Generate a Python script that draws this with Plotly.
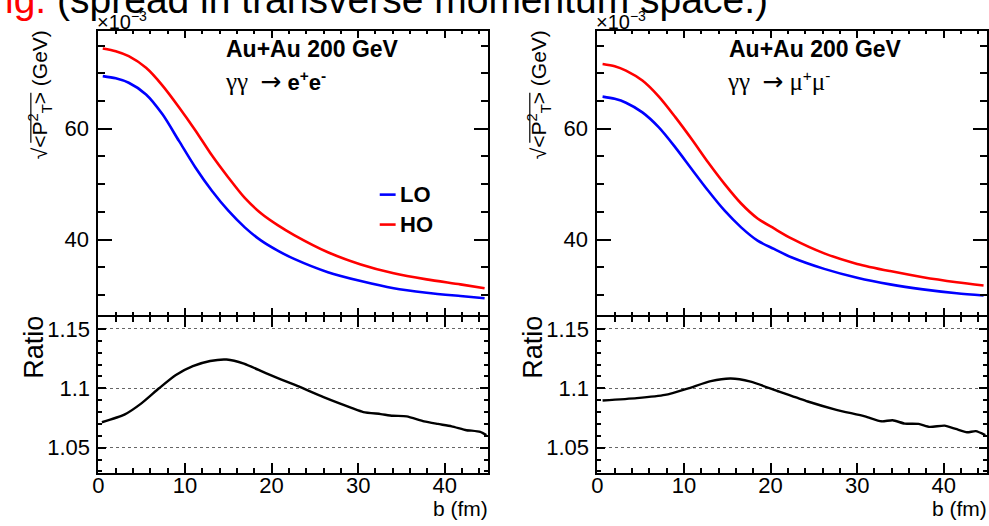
import plotly.graph_objects as go

W, H = 989, 526

# ---- data -----------------------------------------------------------------
# impact parameter b (fm) and sqrt(<pT^2>) (x10^-3 GeV), e+e- channel
b_ee = [0.5, 2.0, 3.5, 5.5, 7.4, 9.3, 11.2, 13.1, 15.0, 16.9, 18.8, 20.7,
        22.6, 26.5, 30.3, 34.1, 37.9, 41.8, 44.6]
lo_ee = [69.5, 69.1, 68.3, 66.2, 62.6, 57.8, 53.0, 48.8, 45.2, 42.2, 39.8,
         38.0, 36.5, 34.1, 32.5, 31.2, 30.4, 29.8, 29.4]
ho_ee = [74.5, 74.0, 73.1, 71.0, 67.8, 63.9, 59.7, 55.2, 51.2, 47.5, 44.7,
         42.6, 40.8, 37.7, 35.5, 33.9, 32.8, 31.9, 31.2]

# mu+mu- channel
b_mm = [0.6, 2.0, 3.3, 5.2, 7.1, 9.0, 10.9, 12.8, 14.7, 16.6, 18.5, 20.4,
        22.4, 26.2, 30.0, 33.8, 37.6, 41.5, 44.6]
lo_mm = [65.8, 65.4, 64.7, 62.95, 60.24, 56.64, 52.7, 48.8, 45.2, 42.2, 39.8,
         38.3, 36.8, 34.7, 33.1, 31.9, 31.0, 30.3, 29.9]
ho_mm = [71.7, 71.3, 70.5, 68.7, 65.8, 62.1, 58.1, 53.9, 50.0, 46.5, 43.8,
         42.0, 40.2, 37.5, 35.6, 34.3, 33.2, 32.3, 31.7]

# HO / LO ratios
b_ratio_ee = [0.4, 3.0, 5.0, 7.0, 8.9, 10.9, 12.9, 14.8, 16.8, 19.4, 22.7,
              26.0, 29.3, 30.6, 32.6, 34.0, 35.6, 37.6, 39.2, 40.8, 42.5,
              43.1, 44.1, 44.8]
ratio_ee = [1.0714, 1.0778, 1.0875, 1.1000, 1.1110, 1.1186, 1.1230, 1.1242,
            1.1208, 1.1125, 1.1028, 1.0925, 1.0833, 1.0800, 1.0783, 1.0769,
            1.0764, 1.0722, 1.0700, 1.0680, 1.0647, 1.0644, 1.0633, 1.0606]

b_ratio_mm = [0.6, 4.55, 7.8, 10.5, 13.1, 15.4, 17.7, 21.0, 24.3, 27.6, 30.9,
              32.8, 34.1, 35.5, 37.1, 38.4, 40.1, 41.4, 42.7, 43.7, 44.8]
ratio_mm = [1.0897, 1.0917, 1.0944, 1.1000, 1.1061, 1.1083, 1.1056, 1.0972,
            1.0889, 1.0819, 1.0764, 1.0722, 1.0731, 1.0703, 1.0700, 1.0675,
            1.0686, 1.0658, 1.0630, 1.0639, 1.0606]

# tick labels
top_y_ticks = [40, 60]
ratio_ticks = [1.05, 1.1, 1.15]
ratio_tick_text = ["1.05", "1.1", "1.15"]
b_ticks = [0, 10, 20, 30, 40]

FONT = "Liberation Sans, Arial, Helvetica, sans-serif"
BLUE = "#0000ff"
RED = "#ff0000"


def px(x):
    return x / W


def py(y):
    return 1 - y / H


# panel geometry (pixels)
LEFT = (93, 485)
RIGHT = (595, 987)
TOP = (30, 315)
BOT = (317, 473)

fig = go.Figure()

panels = [
    # (xaxis top, yaxis top, xaxis bottom, yaxis bottom, b, lo, ho, b_ratio, ratio)
    ("x", "y", "x2", "y2", b_ee, lo_ee, ho_ee, b_ratio_ee, ratio_ee),
    ("x3", "y3", "x4", "y4", b_mm, lo_mm, ho_mm, b_ratio_mm, ratio_mm),
]
for xa, ya, xb, yb, b, lo, ho, br, rr in panels:
    fig.add_trace(go.Scatter(x=b, y=lo, xaxis=xa, yaxis=ya, mode="lines",
                             line=dict(color=BLUE, width=2.6, shape="spline", smoothing=0.8),
                             name="LO", showlegend=False))
    fig.add_trace(go.Scatter(x=b, y=ho, xaxis=xa, yaxis=ya, mode="lines",
                             line=dict(color=RED, width=2.6, shape="spline", smoothing=0.8),
                             name="HO", showlegend=False))
    fig.add_trace(go.Scatter(x=br, y=rr, xaxis=xb, yaxis=yb, mode="lines",
                             line=dict(color="black", width=2.4, shape="spline", smoothing=0.6),
                             name="Ratio", showlegend=False))

common = dict(showline=True, linewidth=2, linecolor="black", mirror="allticks",
              ticks="inside", tickcolor="black", tickwidth=1.5, zeroline=False,
              showgrid=False, tickfont=dict(family=FONT, size=22, color="black"))


def x_top(dom, anchor):
    return dict(common, domain=dom, anchor=anchor, range=[0, 45],
                tickvals=b_ticks, showticklabels=False, ticklen=7,
                minor=dict(dtick=2, tick0=0, ticklen=3.5, ticks="inside",
                           tickcolor="black", showgrid=False))


def x_bot(dom, anchor):
    return dict(common, domain=dom, anchor=anchor, range=[0, 45],
                tickvals=b_ticks, ticklen=10, ticklabelstandoff=-9,
                minor=dict(dtick=2, tick0=0, ticklen=5, ticks="inside",
                           tickcolor="black", showgrid=False))


def y_top(anchor):
    return dict(common, domain=[py(TOP[1]), py(TOP[0])], anchor=anchor,
                range=[26.3, 77.66], tickvals=top_y_ticks, ticklen=14,
                ticklabelstandoff=3,
                minor=dict(dtick=5, tick0=0, ticklen=7, ticks="inside",
                           tickcolor="black", showgrid=False))


def y_bot(anchor):
    return dict(common, domain=[py(BOT[1]), py(BOT[0])], anchor=anchor,
                range=[1.0286, 1.1597], tickvals=ratio_ticks,
                ticktext=ratio_tick_text, ticklen=8, ticklabelstandoff=2,
                tickfont=dict(family=FONT, size=22, color="black"),
                showgrid=True, gridcolor="#666666", griddash="dot", gridwidth=1,
                minor=dict(dtick=0.01, tick0=1.0, ticklen=4, ticks="inside",
                           tickcolor="black", showgrid=False))


ldom = [px(LEFT[0]), px(LEFT[1])]
rdom = [px(RIGHT[0]), px(RIGHT[1])]

fig.update_layout(
    width=W, height=H, margin=dict(l=0, r=0, t=0, b=0),
    paper_bgcolor="white", plot_bgcolor="white",
    font=dict(family=FONT, color="black"),
    xaxis=x_top(ldom, "y"), yaxis=y_top("x"),
    xaxis2=x_bot(ldom, "y2"), yaxis2=y_bot("x2"),
    xaxis3=x_top(rdom, "y3"), yaxis3=y_top("x3"),
    xaxis4=x_bot(rdom, "y4"), yaxis4=y_bot("x4"),
)

ann = []


def text(x, y, s, size, xanchor="left", yanchor="middle", angle=0, color="black"):
    ann.append(dict(x=px(x), y=py(y), xref="paper", yref="paper", text=s,
                    showarrow=False, xanchor=xanchor, yanchor=yanchor,
                    textangle=angle, font=dict(family=FONT, size=size, color=color)))


shapes = []
greek = "font-family:Liberation Serif, Times New Roman, serif;font-size:25px"
arrow = "font-family:DejaVu Sans, sans-serif;font-size:25px"
for (x0, x1), channel in [(LEFT, "<b>e<sup>+</sup>e<sup>-</sup></b>"),
                          (RIGHT, "<span style='%s'>μ</span><sup>+</sup>"
                                  "<span style='%s'>μ</span><sup>-</sup>" % (greek, greek))]:
    off = x0 - LEFT[0]
    # exponent marker of the top axis
    text(x0 - 3, 20, "×10<sup>−3</sup>", 20)
    # axis titles
    text(x0 - 59, 27, "√&lt;P<sup>2</sup><sub>T</sub>&gt; (GeV)", 21,
         xanchor="center", yanchor="top", angle=-90)
    shapes.append(dict(type="line", xref="paper", yref="paper",
                       x0=px(x0 - 68), x1=px(x0 - 68), y0=py(92), y1=py(142),
                       line=dict(color="black", width=1.2)))
    text(x0 - 65, 313, "Ratio", 27, xanchor="center", yanchor="top", angle=-90)
    text(x1 + 2, 508, "b (fm)", 21, xanchor="right")
    # physics labels
    text(219 + off + 4 * (off > 0), 48, "<b>Au+Au 200 GeV</b>", 23)
    gam = ("<span style='%s'>γγ</span>  <span style='%s'>&#8594;</span> "
           % (greek, arrow))
    text(218 + off + 3 * (off > 0), 81, gam + channel, 22)

# slide caption running across the top
text(-3, -2, "<span style='color:#ff0000'>ig.</span> (spread in transverse momentum space.)", 39)

# legend (left panel only)
for yy, color, lab in [(194, BLUE, "LO"), (224, RED, "HO")]:
    shapes.append(dict(type="line", xref="paper", yref="paper",
                       x0=px(376), x1=px(392), y0=py(yy), y1=py(yy),
                       line=dict(color=color, width=2.6)))
    text(394, yy, "<b>%s</b>" % lab, 22)

fig.update_layout(annotations=ann, shapes=shapes)
fig.write_html("out.html")
